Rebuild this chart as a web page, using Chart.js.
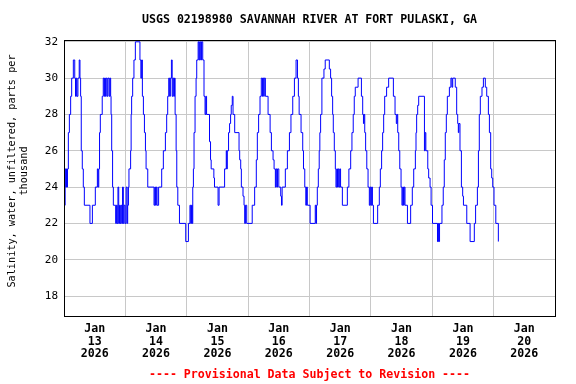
<!DOCTYPE html>
<html><head><meta charset="utf-8">
<script src="https://cdn.jsdelivr.net/npm/chart.js@4"></script>
<style>html,body{margin:0;padding:0;background:#fff}#wrap{width:576px;height:384px}</style>
</head><body><div id="wrap"><canvas id="c" width="576" height="384"></canvas></div>
<script>
const titleText = 'USGS 02198980 SAVANNAH RIVER AT FORT PULASKI, GA';
const yTitleLines = ['Salinity, water, unfiltered, parts per', 'thousand'];
const footerText = '---- Provisional Data Subject to Revision ----';
const tickMonth = 'Jan';
const tickYear = '2026';
const tickDays = [13, 14, 15, 16, 17, 18, 19, 20];
const yTicks = [18, 20, 22, 24, 26, 28, 30, 32];

// hours since Jan 13 2026 00:00, salinity (ppt) held until next time
const hours = [
 0.25,0.45,0.7,0.95,1.15,1.35,1.7,2.1,2.6,3.0,3.65,4.2,4.5,4.8,5.05,5.45,5.95,6.25,6.5,6.75,7.15,7.55,7.95,
 10.15,11.1,12.25,13.05,13.35,13.6,13.9,14.2,14.95,15.35,15.7,15.9,16.2,16.5,16.9,17.2,17.7,18.0,18.25,18.4,18.65,19.0,19.3,
 20.2,20.5,20.8,21.1,21.4,21.7,22.0,22.3,22.6,22.9,23.2,23.5,23.9,24.3,24.7,24.9,25.2,
 25.4,26.05,26.25,26.45,26.85,27.35,27.9,29.7,30.05,30.35,30.65,31.05,31.45,31.85,32.1,32.75,
 35.2,35.5,35.8,36.1,36.4,37.0,38.2,38.85,39.65,40.15,40.55,40.95,41.3,41.6,42.0,42.3,42.6,42.9,43.2,43.45,43.85,44.1,44.5,45.15,
 47.6,48.65,49.25,49.55,49.85,50.15,50.35,50.6,50.85,51.25,51.65,51.9,52.45,52.75,53.05,53.45,53.75,54.25,54.75,55.15,55.45,55.75,
 56.9,57.3,57.55,58.6,58.85,60.25,60.65,62.8,63.45,63.65,63.85,64.35,64.75,65.15,65.4,65.8,66.1,66.75,68.45,68.7,69.1,69.35,70.0,70.4,70.65,70.95,71.45,
 73.6,74.55,75.2,75.6,76.1,76.65,77.15,77.6,77.8,78.1,78.3,78.75,79.8,80.6,81.1,81.75,82.15,82.65,82.9,83.2,83.5,84.0,84.75,85.05,85.3,
 86.55,87.35,88.15,88.75,89.45,90.1,90.75,91.3,91.65,91.95,92.7,93.35,93.65,94.15,94.55,94.85,95.15,96.25,
 98.25,98.55,98.75,99.05,99.45,99.8,100.05,100.35,100.85,101.65,102.15,103.75,104.25,104.65,105.05,105.3,105.7,106.1,106.35,106.65,106.95,107.25,107.55,107.85,108.15,108.85,
 110.8,111.4,112.1,112.6,113.1,113.5,113.9,115.0,116.3,116.8,117.1,117.3,117.6,117.95,118.4,118.9,119.4,119.7,120.0,120.3,120.6,121.0,
 122.65,123.3,123.7,124.2,124.6,125.0,125.4,126.15,126.95,128.8,129.45,129.95,130.25,130.5,130.9,131.3,131.8,132.15,132.45,132.75,133.05,133.35,134.3,
 135.55,136.2,136.75,137.4,137.65,137.9,138.3,138.7,140.95,141.2,141.5,142.25,142.6,143.15,143.55,144.1,146.05,146.3,146.5,146.85,
 147.8,148.3,148.7,149.1,149.5,149.9,150.7,151.3,151.7,152.0,153.0,153.55,153.95,154.2,154.4,154.85,155.4,155.9,156.2,157.5,158.8,
 160.45,160.95,161.65,162.05,162.4,162.8,163.45,164.0,164.75,165.3,165.95,166.35,166.85,167.25,167.65,168.15,168.85,169.85
];
const salinity = [
 23,25,24,25,24,25,27,28,29,30,31,30,29,30,29,30,31,30,29,26,25,24,23,
 22,23,24,25,24,25,27,28,29,30,29,30,29,30,29,30,29,30,29,28,26,24,23,
 22,23,22,24,22,23,22,23,22,24,22,23,22,24,22,23,24,
 25,26,28,29,30,31,32,31,30,31,29,28,27,26,25,24,
 23,24,23,24,23,24,25,26,27,28,29,30,29,30,31,29,30,29,30,28,26,24,23,22,
 21,22,23,22,23,22,24,25,27,29,30,31,32,31,32,31,32,31,29,28,29,28,
 26.5,25.5,25,24.5,24,23,24,25,26,25,26,27,27.5,28,28.5,29,28,27,26,25.5,25,24,23.5,23,22,23,22,
 23,24,25.5,27,28,29,30,29,30,29,30,29,28,27,26,25.5,25,24,25,24,25,24,23.5,23,24,
 25,26,27,28,29,30,31,30,29,28,27,26,25,24,23,24,23,22,
 23,22,23,24,25,26,27,28,30,30.5,31,30.5,30,29,28,27,26,25,24,25,24,25,24,25,24,23,
 24,25,26,27,28,29,29.5,30,29,28,27.5,28,27,26,25,24,23,24,23,24,23,22,
 23,24,25,26,27,28,29,29.5,30,29,28,27.5,28,27,26,25,24,23,24,23,24,23,22,
 23,24,25,26,27,28,28.5,29,26,27,26,25,24.5,24,23,22,21,22,21,22,
 23,24,25.5,27,28,29,29.5,30,29.5,30,29.5,28,27.5,27,27.5,26,24,23.5,23,22,21,
 22,23,24,26,28,29,29.5,30,29.5,29,28,27,25,24.5,24,23,22,21
];

const points = hours.map((h, i) => ({ x: h, y: salinity[i] }));
const FONT = 'DejaVu Sans Mono';

const framePlugin = {
  id: 'frame',
  afterDraw(chart) {
    const { ctx, chartArea: a } = chart;
    ctx.save();
    ctx.strokeStyle = '#000';
    ctx.lineWidth = 1;
    ctx.strokeRect(a.left + 0.5, a.top + 0.5, a.right - a.left, a.bottom - a.top);
    const cx = (a.left + a.right) / 2;
    ctx.textAlign = 'center';
    ctx.textBaseline = 'middle';
    ctx.font = 'bold 11.6px "' + FONT + '"';
    ctx.fillStyle = '#000';
    ctx.fillText(titleText, cx, 20);
    ctx.fillStyle = '#ff0000';
    ctx.fillText(footerText, cx, 375);
    // y axis title, rotated
    ctx.fillStyle = '#000';
    ctx.font = '10.2px "' + FONT + '"';
    ctx.translate(12, 171);
    ctx.rotate(-Math.PI / 2);
    yTitleLines.forEach((line, i) => ctx.fillText(line, 0, i * 12));
    ctx.restore();
  }
};

new Chart(document.getElementById('c'), {
  type: 'line',
  data: {
    datasets: [{
      data: points,
      borderColor: '#0000ff',
      borderWidth: 1,
      pointRadius: 0,
      stepped: true,
      fill: false
    }]
  },
  options: {
    responsive: false,
    animation: false,
    devicePixelRatio: 1,
    layout: { padding: { left: 0, right: 21, top: 40, bottom: 0 } },
    plugins: { legend: { display: false }, tooltip: { enabled: false }, title: { display: false } },
    scales: {
      x: {
        type: 'linear',
        min: 0,
        max: (tickDays.length) * 24,
        border: { display: false },
        grid: {
          drawTicks: false,
          lineWidth: 1,
          color: (c) => (c.tick && c.tick.value % 24 === 0) ? '#c8c8c8' : 'rgba(0,0,0,0)'
        },
        ticks: {
          autoSkip: false,
          maxRotation: 0,
          padding: 6,
          color: '#000',
          font: { family: FONT, size: 11.6, weight: 'bold', lineHeight: 1.12 },
          callback: (v) => {
            if (v % 24 !== 12) return '';
            const d = tickDays[Math.floor(v / 24)];
            return [tickMonth, String(d), tickYear];
          }
        },
        afterBuildTicks: (s) => {
          const t = [];
          for (let i = 0; i <= tickDays.length * 2; i++) t.push({ value: i * 12 });
          s.ticks = t;
        },
        afterFit: (s) => { s.height = 68; }
      },
      y: {
        min: 16.9,
        max: 32.1,
        border: { display: false },
        grid: { drawTicks: false, color: '#c8c8c8', lineWidth: 1 },
        ticks: {
          padding: 6,
          color: '#000',
          font: { family: FONT, size: 11 }
        },
        afterBuildTicks: (s) => { s.ticks = yTicks.map(v => ({ value: v })); },
        afterFit: (s) => { s.width = 64; }
      }
    }
  },
  plugins: [framePlugin]
});
</script>
</body></html>
